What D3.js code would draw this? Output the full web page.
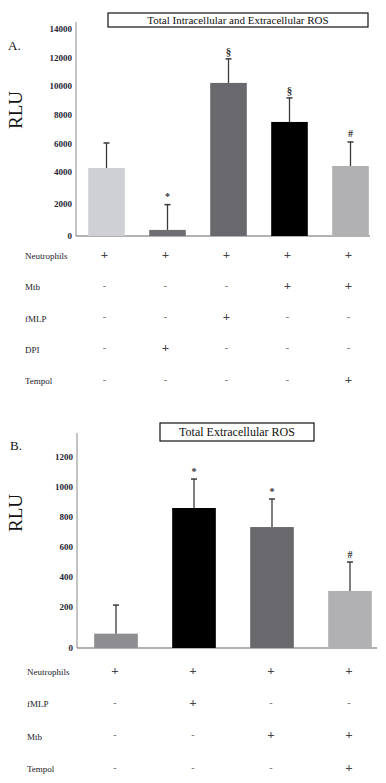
<!DOCTYPE html>
<html>
<head>
<meta charset="utf-8">
<script src="https://cdn.jsdelivr.net/npm/d3@7"></script>
<style>
  body { margin: 0; background: #fff; }
  svg { display: block; }
  svg text { font-family: "Liberation Serif", "DejaVu Serif", serif; }
</style>
</head>
<body>
<svg id="chart" width="386" height="783"></svg>
<script>
// panel A data
const valuesA = [4280, 380, 10230, 7500, 4420];
const errorsA = [1750, 1580, 1680, 1680, 1680];
const marksA = ['', '*', '§', '§', '#'];
const ticksA = [0, 2000, 4000, 6000, 8000, 10000, 12000, 14000];
const rowsA = ['Neutrophils', 'Mtb', 'fMLP', 'DPI', 'Tempol'];
const signsA = [
  ['+', '+', '+', '+', '+'],
  ['-', '-', '-', '+', '+'],
  ['-', '-', '+', '-', '-'],
  ['-', '+', '-', '-', '-'],
  ['-', '-', '-', '-', '+']
];

// panel B data
const valuesB = [70, 860, 733, 307];
const errorsB = [143, 193, 187, 193];
const marksB = ['', '*', '*', '#'];
const ticksB = [0, 200, 400, 600, 800, 1000, 1200];
const rowsB = ['Neutrophils', 'fMLP', 'Mtb', 'Tempol'];
const signsB = [
  ['+', '+', '+', '+'],
  ['-', '+', '-', '-'],
  ['-', '-', '+', '+'],
  ['-', '-', '-', '+']
];

const colorsA = ['#cfd0d4', '#6f6e73', '#69686d', '#000000', '#b1b1b4'];
const colorsB = ['#8e8d92', '#000000', '#69686d', '#b1b1b4'];

const svg = d3.select('#chart');

function panel(opt) {
  const g = svg.append('g').attr('font-family', '"Liberation Serif", serif');
  const n = opt.values.length;

  const x = d3.scaleBand()
    .domain(d3.range(n))
    .range(opt.xRange)
    .paddingInner(opt.pad)
    .paddingOuter(opt.pad / 2);

  // tick labels in the source are not evenly spaced, so use a piecewise scale
  const y = d3.scaleLinear().domain(opt.yDomain).range(opt.yRange);

  // panel letter
  g.append('text')
    .attr('x', opt.letterPos[0]).attr('y', opt.letterPos[1])
    .attr('font-size', 13).attr('fill', '#111')
    .text(opt.letter);

  // RLU label
  g.append('text')
    .attr('transform', `translate(${opt.rluPos[0]},${opt.rluPos[1]}) rotate(-90)`)
    .attr('text-anchor', 'middle')
    .attr('font-size', 19).attr('fill', '#111')
    .text('RLU');

  // title box
  const tb = opt.titleBox;
  g.append('rect')
    .attr('x', tb[0]).attr('y', tb[1]).attr('width', tb[2]).attr('height', tb[3])
    .attr('fill', '#fff').attr('stroke', '#111').attr('stroke-width', 1.2);
  g.append('text')
    .attr('x', tb[0] + tb[2] / 2).attr('y', tb[1] + tb[3] / 2)
    .attr('dy', '0.35em').attr('text-anchor', 'middle')
    .attr('font-size', opt.titleSize).attr('fill', '#111')
    .text(opt.title);

  // y axis
  const axisX = opt.xRange[0];
  g.append('line')
    .attr('x1', axisX).attr('x2', axisX)
    .attr('y1', opt.axisTop).attr('y2', y(0))
    .attr('stroke', '#888').attr('stroke-width', 1);
  g.append('line')
    .attr('x1', axisX).attr('x2', opt.baseEnd)
    .attr('y1', y(0)).attr('y2', y(0))
    .attr('stroke', '#666').attr('stroke-width', 1.2);

  g.selectAll('.tick')
    .data(opt.ticks)
    .join('text')
    .attr('x', axisX - 4)
    .attr('y', d => y(d))
    .attr('dy', '0.35em')
    .attr('text-anchor', 'end')
    .attr('font-size', 9)
    .attr('font-weight', 'bold')
    .attr('fill', '#262636')
    .text(d => d);

  // bars
  g.selectAll('.bar')
    .data(opt.values)
    .join('rect')
    .attr('x', (d, i) => x(i))
    .attr('y', d => y(d))
    .attr('width', x.bandwidth())
    .attr('height', d => y(0) - y(d))
    .attr('fill', (d, i) => opt.colors[i]);

  // error bars
  const eb = g.selectAll('.err')
    .data(opt.values)
    .join('g');
  eb.append('line')
    .attr('x1', (d, i) => x(i) + x.bandwidth() / 2)
    .attr('x2', (d, i) => x(i) + x.bandwidth() / 2)
    .attr('y1', d => y(d))
    .attr('y2', (d, i) => y(d + opt.errors[i]))
    .attr('stroke', '#3a3a3a').attr('stroke-width', 1.3);
  eb.append('line')
    .attr('x1', (d, i) => x(i) + x.bandwidth() / 2 - 3)
    .attr('x2', (d, i) => x(i) + x.bandwidth() / 2 + 3)
    .attr('y1', (d, i) => y(d + opt.errors[i]))
    .attr('y2', (d, i) => y(d + opt.errors[i]))
    .attr('stroke', '#3a3a3a').attr('stroke-width', 1.5);

  // significance marks
  g.selectAll('.mark')
    .data(opt.values)
    .join('text')
    .attr('x', (d, i) => x(i) + x.bandwidth() / 2)
    .attr('y', (d, i) => y(d + opt.errors[i]) - 8)
    .attr('dy', '0.35em')
    .attr('text-anchor', 'middle')
    .attr('font-size', (d, i) => opt.marks[i] === '§' ? 11 : 10)
    .attr('font-weight', 'bold')
    .attr('fill', '#333')
    .text((d, i) => opt.marks[i]);

  // condition table
  const ry = d3.scaleLinear().domain([0, opt.rows.length - 1]).range(opt.rowRange);
  opt.rows.forEach((r, ri) => {
    g.append('text')
      .attr('x', opt.rowLabelX).attr('y', ry(ri) + 2)
      .attr('dy', '0.35em')
      .attr('font-size', 9).attr('fill', '#1a1a2a')
      .text(r);
    g.selectAll('.sign' + ri)
      .data(opt.signs[ri])
      .join('text')
      .attr('x', (d, i) => x(i) + x.bandwidth() / 2 + opt.signShift)
      .attr('y', ry(ri))
      .attr('dy', '0.35em')
      .attr('text-anchor', 'middle')
      .attr('font-size', d => d === '+' ? 13 : 10)
      .attr('font-weight', 'bold')
      .attr('fill', d => d === '+' ? '#444' : '#777')
      .text(d => d);
  });
}

panel({
  values: valuesA, errors: errorsA, marks: marksA, ticks: ticksA,
  rows: rowsA, signs: signsA, colors: colorsA,
  xRange: [76, 381], pad: 0.4, baseEnd: 370,
  yDomain: [0, 4000, 14000], yRange: [236, 172, 29], axisTop: 22,
  letter: 'A.', letterPos: [8, 50], rluPos: [22, 110],
  titleBox: [108, 13, 260, 14], title: 'Total Intracellular and Extracellular ROS', titleSize: 11,
  rowLabelX: 25, rowRange: [254, 379], signShift: -2
});

panel({
  values: valuesB, errors: errorsB, marks: marksB, ticks: ticksB,
  rows: rowsB, signs: signsB, colors: colorsB,
  xRange: [77, 389], pad: 0.44, baseEnd: 377,
  yDomain: [0, 200, 1200], yRange: [648, 607, 457], axisTop: 433,
  letter: 'B.', letterPos: [10, 450], rluPos: [22, 513],
  titleBox: [160, 423, 154, 18], title: 'Total Extracellular ROS', titleSize: 12,
  rowLabelX: 27, rowRange: [670, 767], signShift: -1
});
</script>
</body>
</html>
